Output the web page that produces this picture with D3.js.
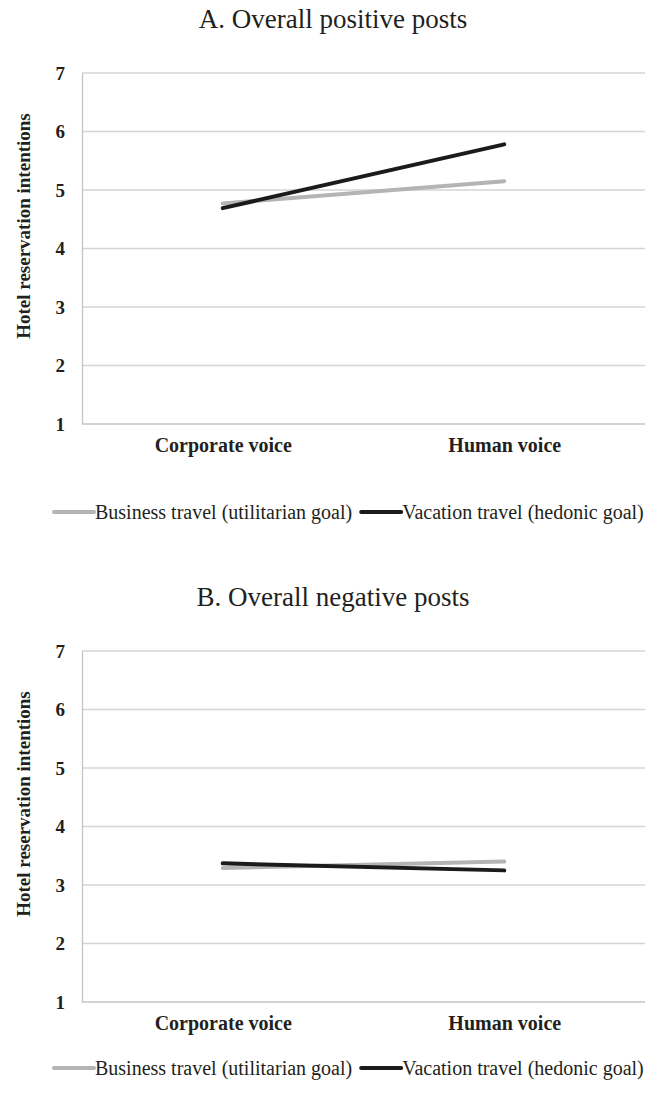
<!DOCTYPE html>
<html>
  <head>
    <meta charset="utf-8">
    <title>Hotel reservation intentions</title>
    <script src="https://d3js.org/d3.v7.min.js"></script>
    <style>
      body { margin: 0; background: #fff; }
      text { font-family: "Liberation Serif", "Times New Roman", serif; fill: #231f20; }
    </style>
  </head>
  <body>
    <div id="chart"></div>
    <script type="text/javascript">

      // data
      var categories = ["Corporate voice", "Human voice"];
      var yTicks = [1, 2, 3, 4, 5, 6, 7];
      var seriesNames = ["Business travel (utilitarian goal)", "Vacation travel (hedonic goal)"];
      var positiveBusiness = [4.77, 5.15];
      var positiveVacation = [4.69, 5.78];
      var negativeBusiness = [3.29, 3.40];
      var negativeVacation = [3.37, 3.25];

      var width = 668, height = 1097;
      var colors = ["#b4b4b7", "#1c1a1b"];

      var svg = d3.select("#chart")
        .append("svg")
        .attr("width", width)
        .attr("height", height);

      var left = 82, right = 645;

      function drawPanel(top, title, business, vacation, legendY) {
        var g = svg.append("g").attr("transform", "translate(0," + top + ")");

        g.append("text")
          .attr("x", 333)
          .attr("y", 28)
          .attr("text-anchor", "middle")
          .attr("font-size", 27)
          .text(title);

        var x = d3.scalePoint()
          .domain(categories)
          .range([left, right])
          .padding(0.5);

        var y = d3.scaleLinear()
          .domain([1, 7])
          .range([424, 73]);

        // gridlines
        g.append("g")
          .selectAll("line")
          .data(yTicks.slice(1))
          .enter().append("line")
          .attr("x1", left)
          .attr("x2", right)
          .attr("y1", function(d) { return y(d); })
          .attr("y2", function(d) { return y(d); })
          .attr("stroke", "#d4d4d4")
          .attr("stroke-width", 1.3);

        // axes
        var yAxis = g.append("g")
          .attr("transform", "translate(" + left + ",0)")
          .call(d3.axisLeft(y).tickValues(yTicks).tickFormat(d3.format("d")).tickSize(0).tickPadding(17));
        yAxis.select(".domain").attr("stroke", "#c4c4c4").attr("stroke-width", 1.3);
        yAxis.selectAll("text")
          .attr("font-size", 19)
          .attr("font-weight", "bold")
          .attr("font-family", "Liberation Serif");

        var xAxis = g.append("g")
          .attr("transform", "translate(0," + y(1) + ")")
          .call(d3.axisBottom(x).tickSize(0).tickPadding(14));
        xAxis.select(".domain").attr("d", "M" + left + ",0H" + right)
          .attr("stroke", "#c4c4c4").attr("stroke-width", 1.3);
        xAxis.selectAll("text")
          .attr("font-size", 20)
          .attr("font-weight", "bold")
          .attr("font-family", "Liberation Serif");

        g.append("text")
          .attr("transform", "translate(23," + 226 + ") rotate(-90)")
          .attr("text-anchor", "middle")
          .attr("dy", "0.35em")
          .attr("font-size", 19)
          .attr("font-weight", "bold")
          .text("Hotel reservation intentions");

        var line = d3.line()
          .x(function(d, i) { return x(categories[i]); })
          .y(function(d) { return y(d); });

        [business, vacation].forEach(function(vals, k) {
          g.append("path")
            .datum(vals)
            .attr("d", line)
            .attr("fill", "none")
            .attr("stroke", colors[k])
            .attr("stroke-width", 4)
            .attr("stroke-linecap", "round");
        });

        // legend
        var leg = g.append("g").attr("transform", "translate(0," + legendY + ")");
        var lx = 54;
        seriesNames.forEach(function(name, k) {
          leg.append("line")
            .attr("x1", lx).attr("x2", lx + 40)
            .attr("y1", 0).attr("y2", 0)
            .attr("stroke", colors[k])
            .attr("stroke-width", 4)
            .attr("stroke-linecap", "round");
          var t = leg.append("text")
            .attr("x", lx + 41)
            .attr("y", 0)
            .attr("dy", "0.35em")
            .attr("font-size", 20)
            .text(name);
          lx = lx + 41 + t.node().getComputedTextLength() + 9;
        });
      }

      drawPanel(0, "A. Overall positive posts", positiveBusiness, positiveVacation, 512);
      drawPanel(578, "B. Overall negative posts", negativeBusiness, negativeVacation, 490);

    </script>
  </body>
</html>
